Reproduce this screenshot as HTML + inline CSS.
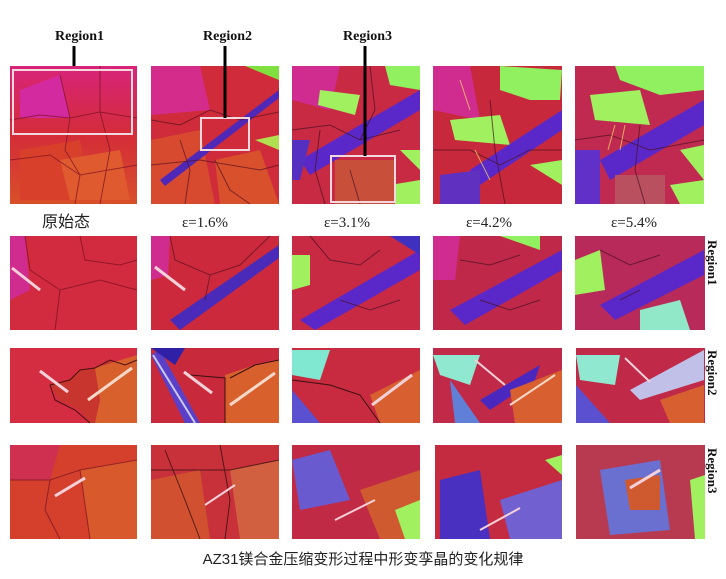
<!DOCTYPE html>
<html><head><meta charset="utf-8"><style>
body{margin:0;background:#fff;width:726px;height:579px;overflow:hidden}
svg{display:block}
</style></head><body>
<svg width="726" height="579" viewBox="0 0 726 579" xmlns="http://www.w3.org/2000/svg">
<defs>
<linearGradient id="g1" x1="0" y1="0" x2="0" y2="1"><stop offset="0" stop-color="#d8247a"/><stop offset="0.5" stop-color="#d42c38"/><stop offset="1" stop-color="#d8502a"/></linearGradient>
</defs>
<g font-family="Liberation Serif, serif" font-weight="bold" font-size="14" fill="#111">
<text x="55" y="40">Region1</text>
<text x="203" y="40">Region2</text>
<text x="343" y="40">Region3</text>
</g>
<!-- Row 1 -->
<rect x="10" y="66" width="127" height="138" fill="url(#g1)"/>
<polygon points="20,90 60,75 70,118 20,118" fill="#d42aa0"/>
<polygon points="20,150 80,140 90,200 20,200" fill="#d8402c"/>
<polygon points="60,160 120,150 130,200 70,200" fill="#e05a30"/>
<g stroke="#7a1020" stroke-width="1" fill="none" opacity="0.7">
<polyline points="10,120 40,115 70,118 100,112 137,118"/><polyline points="60,75 70,118 65,150 80,175 75,204"/><polyline points="100,66 100,112 110,150 100,204"/><polyline points="10,160 50,155 80,175 137,165"/>
</g>
<rect x="13" y="70" width="119" height="64" fill="none" stroke="#f4d8e0" stroke-width="2"/>
<line x1="74" y1="66" x2="74" y2="46" stroke="#000" stroke-width="3"/>

<rect x="151" y="66" width="128" height="138" fill="#cf2b3a"/>
<polygon points="151,66 200,66 210,110 151,115" fill="#d42c8a"/>
<polygon points="151,140 200,130 215,204 151,204" fill="#d84a30"/>
<polygon points="215,160 260,150 279,204 220,204" fill="#d8502c"/>
<polygon points="160,180 279,90 279,98 165,186" fill="#5028b8"/>
<polygon points="245,66 279,66 279,80" fill="#80e040"/>
<polygon points="255,140 279,135 279,150" fill="#b0e050"/>
<g stroke="#5a1020" stroke-width="1" fill="none" opacity="0.7">
<polyline points="151,120 180,125 210,110 240,120 279,112"/><polyline points="180,140 190,170 185,204"/><polyline points="215,160 230,190 250,204"/><polyline points="151,165 200,160 260,170 279,165"/>
</g>
<rect x="201" y="118" width="48" height="32" fill="none" stroke="#f4d8e0" stroke-width="2"/>
<line x1="225" y1="118" x2="225" y2="46" stroke="#000" stroke-width="3"/>

<rect x="292" y="66" width="128" height="138" fill="#c82a44"/>
<polygon points="292,66 340,66 330,110 292,100" fill="#d02c90"/>
<polygon points="320,90 360,95 355,115 318,105" fill="#a0f060"/>
<polygon points="385,66 420,66 420,90 390,85" fill="#90f060"/>
<polygon points="300,160 420,90 420,110 310,175" fill="#5a28c8"/>
<polygon points="292,140 310,140 300,180 292,180" fill="#5530c0"/>
<polygon points="400,150 420,150 420,170" fill="#a0f060"/>
<polygon points="390,185 420,180 420,204 395,204" fill="#a0f060"/>
<polygon points="335,160 395,160 395,204 335,204" fill="#c8503a"/>
<g stroke="#4a1020" stroke-width="1" fill="none" opacity="0.7">
<polyline points="292,130 330,125 360,140 400,130"/><polyline points="320,130 315,170 325,204"/><polyline points="350,170 360,204"/><polyline points="370,66 375,110 360,140"/>
</g>
<rect x="331" y="156" width="64" height="46" fill="none" stroke="#f4d8e0" stroke-width="2"/>
<line x1="365" y1="156" x2="365" y2="46" stroke="#000" stroke-width="3"/>

<rect x="433" y="66" width="129" height="138" fill="#c8283c"/>
<polygon points="433,66 470,66 480,120 433,110" fill="#d02c90"/>
<polygon points="500,66 562,70 560,100 530,100 500,90" fill="#90f060"/>
<polygon points="450,120 500,115 510,145 455,140" fill="#a0f060"/>
<polygon points="470,170 562,110 562,130 480,185" fill="#5a28c8"/>
<polygon points="530,165 562,160 562,185" fill="#a0f060"/>
<polygon points="440,175 480,170 480,204 440,204" fill="#6030c0"/>
<g stroke="#4a1020" stroke-width="1" fill="none" opacity="0.7">
<polyline points="433,150 470,150 500,165 530,150 562,150"/><polyline points="490,100 495,150 505,204"/><line x1="460" y1="80" x2="470" y2="110" stroke="#f0e060"/><line x1="475" y1="150" x2="490" y2="180" stroke="#f0e060"/>
</g>

<rect x="575" y="66" width="129" height="138" fill="#c02a50"/>
<polygon points="615,66 704,66 704,90 660,95 620,80" fill="#90f060"/>
<polygon points="590,95 640,90 650,125 595,120" fill="#a0f060"/>
<polygon points="600,160 704,100 704,125 610,180" fill="#5a28c8"/>
<polygon points="575,150 600,150 600,204 575,204" fill="#6030c8"/>
<polygon points="680,150 704,145 704,180" fill="#a0f060"/>
<polygon points="670,185 704,180 704,204 680,204" fill="#a0f060"/>
<polygon points="615,175 665,175 665,204 615,204" fill="#b85060"/>
<g stroke="#4a1020" stroke-width="1" fill="none" opacity="0.7">
<polyline points="575,140 610,135 650,150 704,140"/><polyline points="640,125 635,170 645,204"/><line x1="615" y1="125" x2="608" y2="150" stroke="#f0e060"/><line x1="625" y1="125" x2="620" y2="150" stroke="#f0e060"/>
</g>

<g font-family="Liberation Serif, serif" font-size="15" fill="#222">
<text x="42" y="227" font-family="Liberation Sans, Noto Sans CJK SC, sans-serif" font-size="16">原始态</text>
<text x="182" y="227">ε=1.6%</text>
<text x="324" y="227">ε=3.1%</text>
<text x="466" y="227">ε=4.2%</text>
<text x="611" y="227">ε=5.4%</text>
</g>

<!-- Row 2 -->
<rect x="10" y="236" width="127" height="94" fill="#d22a3e"/>
<polygon points="10,236 25,236 30,290 10,300" fill="#d02c90"/>
<g stroke="#7a1020" stroke-width="1" fill="none" opacity="0.7"><polyline points="25,236 30,270 60,290 100,280 137,290"/><polyline points="80,236 85,260 120,265 137,260"/><polyline points="60,290 55,330"/></g>
<line x1="12" y1="268" x2="40" y2="290" stroke="#f4d0d8" stroke-width="3"/>
<rect x="151" y="236" width="128" height="94" fill="#cc2a3c"/>
<polygon points="151,236 170,236 168,275 151,280" fill="#d02c90"/>
<polygon points="170,320 279,245 279,258 180,330" fill="#4a2ab8"/>
<g stroke="#5a1020" stroke-width="1" fill="none" opacity="0.7"><polyline points="170,236 175,260 210,275 240,265 270,236"/><polyline points="210,275 205,300"/></g>
<line x1="155" y1="267" x2="185" y2="290" stroke="#f4d0d8" stroke-width="3"/>
<rect x="292" y="236" width="128" height="94" fill="#c82a44"/>
<polygon points="292,255 310,255 310,285 292,290" fill="#a0f060"/>
<polygon points="300,320 420,250 420,270 315,330" fill="#5a28c8"/>
<polygon points="390,236 420,236 420,255" fill="#4030c0"/>
<g stroke="#4a1020" stroke-width="1" fill="none" opacity="0.7"><polyline points="310,236 330,260 360,265 380,250"/><polyline points="340,300 370,310 400,300"/></g>
<rect x="433" y="236" width="129" height="94" fill="#c0284a"/>
<polygon points="433,236 460,236 455,280 433,280" fill="#d02c90"/>
<polygon points="450,310 562,250 562,270 465,325" fill="#5a28c8"/>
<polygon points="500,236 540,236 540,250" fill="#90f060"/>
<g stroke="#4a1020" stroke-width="1" fill="none" opacity="0.7"><polyline points="460,260 490,265 520,255"/><polyline points="480,300 510,310 540,300"/></g>
<rect x="575" y="236" width="130" height="94" fill="#b82a5a"/>
<polygon points="575,260 600,250 605,290 575,295" fill="#a0f060"/>
<polygon points="600,305 704,250 704,275 615,320" fill="#5a28c8"/>
<polygon points="640,310 680,300 690,330 640,330" fill="#90e8c8"/>
<g stroke="#4a1020" stroke-width="1" fill="none" opacity="0.7"><polyline points="600,250 630,265 660,255"/><polyline points="620,300 640,290"/></g>
<text x="0" y="0" transform="translate(708,240) rotate(90)" font-family="Liberation Serif, serif" font-weight="bold" font-size="13" fill="#111">Region1</text>

<!-- Row 3 -->
<rect x="10" y="348" width="127" height="75" fill="#d42c40"/>
<polygon points="50,385 70,380 80,370 95,368 110,360 125,365 137,360 137,423 90,423 80,410 60,400" fill="#c8342e"/>
<polygon points="95,368 137,355 137,423 95,423 100,400" fill="#d8602c"/>
<polyline points="50,385 70,380 80,370 95,368 110,360 125,365 137,360" stroke="#4a1010" stroke-width="1" fill="none"/>
<polyline points="50,385 55,400 75,410 90,423" stroke="#4a1010" stroke-width="1" fill="none"/>
<line x1="40" y1="371" x2="68" y2="392" stroke="#f4d0d8" stroke-width="3"/>
<line x1="132" y1="368" x2="88" y2="400" stroke="#f8d8c8" stroke-width="3"/>
<rect x="151" y="348" width="128" height="75" fill="#c82a3c"/>
<polygon points="151,355 160,350 200,423 185,423" fill="#5a40c8"/>
<polyline points="153,355 195,423" stroke="#c8c8ff" stroke-width="2" fill="none"/>
<polygon points="151,348 185,348 175,365" fill="#3020a8"/>
<polygon points="225,375 255,365 279,360 279,423 225,423" fill="#d8602c"/>
<polyline points="230,378 255,365 279,360" stroke="#3a1010" stroke-width="1" fill="none"/>
<polyline points="190,375 225,378 225,423" stroke="#3a1010" stroke-width="1" fill="none"/>
<line x1="184" y1="372" x2="212" y2="393" stroke="#f4d0d8" stroke-width="3"/>
<line x1="275" y1="373" x2="230" y2="405" stroke="#f8d8c8" stroke-width="3"/>
<rect x="292" y="348" width="128" height="75" fill="#c82a40"/>
<polygon points="292,350 330,350 320,380 292,375" fill="#80e8d0"/>
<polygon points="292,390 320,423 292,423" fill="#5a50d0"/>
<polygon points="370,395 420,370 420,423 380,423" fill="#d86030"/>
<polyline points="292,380 330,385 360,395 380,423" stroke="#3a1010" stroke-width="1" fill="none"/>
<line x1="412" y1="375" x2="372" y2="405" stroke="#f4d0d8" stroke-width="3"/>
<rect x="433" y="348" width="129" height="75" fill="#c02a48"/>
<polygon points="433,355 480,355 470,385 440,375" fill="#90e8d0"/>
<polygon points="450,380 480,423 455,423" fill="#6080d8"/>
<polygon points="480,400 540,365 535,380 490,410" fill="#4a28c0"/>
<polygon points="510,390 562,370 562,423 515,423" fill="#d86030"/>
<line x1="475" y1="360" x2="505" y2="385" stroke="#f4d0d8" stroke-width="2"/>
<line x1="555" y1="375" x2="510" y2="405" stroke="#f8d8c8" stroke-width="2"/>
<rect x="576" y="348" width="129" height="75" fill="#c02a48"/>
<polygon points="576,355 620,355 615,385 580,380" fill="#90e8d0"/>
<polygon points="576,385 610,423 576,423" fill="#5a50d0"/>
<polygon points="630,390 704,350 704,380 640,400" fill="#c0c0e8"/>
<polygon points="660,400 704,385 704,423 670,423" fill="#d86030"/>
<line x1="625" y1="358" x2="650" y2="382" stroke="#f4d0d8" stroke-width="2"/>
<text transform="translate(708,350) rotate(90)" font-family="Liberation Serif, serif" font-weight="bold" font-size="13" fill="#111">Region2</text>

<!-- Row 4 -->
<rect x="10" y="445" width="127" height="94" fill="#d4402c"/>
<polygon points="10,445 60,445 50,480 10,480" fill="#d03050"/>
<polygon points="80,470 137,460 137,539 90,539" fill="#d85a2c"/>
<g stroke="#7a1020" stroke-width="1" fill="none" opacity="0.7"><polyline points="10,480 50,480 80,470 137,460"/><polyline points="50,480 45,510 60,539"/><polyline points="80,470 90,539"/></g>
<line x1="55" y1="496" x2="85" y2="478" stroke="#f4d0d8" stroke-width="3"/>
<rect x="151" y="445" width="128" height="94" fill="#c8303a"/>
<polygon points="151,480 200,470 210,539 151,539" fill="#d05030"/>
<polygon points="230,470 279,460 279,539 240,539" fill="#d06040"/>
<g stroke="#3a1010" stroke-width="1" fill="none" opacity="0.8"><polyline points="151,470 200,470 230,470 279,460"/><polyline points="165,450 185,500 200,539"/><polyline points="220,445 230,500 225,539"/></g>
<line x1="205" y1="505" x2="235" y2="485" stroke="#f4d0d8" stroke-width="2"/>
<rect x="292" y="445" width="128" height="94" fill="#c02a44"/>
<polygon points="292,460 330,450 350,500 300,510" fill="#6a5ad0"/>
<polygon points="360,490 420,470 420,539 380,539" fill="#d05a30"/>
<polygon points="395,510 420,500 420,539 405,539" fill="#a0f060"/>
<line x1="335" y1="520" x2="375" y2="500" stroke="#f4d0d8" stroke-width="2"/>
<rect x="435" y="445" width="127" height="94" fill="#c42a40"/>
<polygon points="440,480 480,470 490,539 440,539" fill="#4a30c0"/>
<polygon points="500,500 562,480 562,539 510,539" fill="#7060d0"/>
<polygon points="545,460 562,455 562,475" fill="#a0f060"/>
<line x1="480" y1="530" x2="520" y2="508" stroke="#f4d0d8" stroke-width="2"/>
<rect x="576" y="445" width="129" height="94" fill="#b83a50"/>
<polygon points="600,470 660,460 670,530 610,535" fill="#6a70d0"/>
<polygon points="625,480 660,475 660,510 630,510" fill="#d05a30"/>
<polygon points="690,480 705,475 705,539 695,539" fill="#a0f060"/>
<line x1="630" y1="488" x2="660" y2="470" stroke="#f4d0d8" stroke-width="3"/>
<text transform="translate(708,448) rotate(90)" font-family="Liberation Serif, serif" font-weight="bold" font-size="13" fill="#111">Region3</text>

<text x="363" y="564" text-anchor="middle" font-family="Liberation Sans, Noto Sans CJK SC, sans-serif" font-size="15" fill="#222">AZ31镁合金压缩变形过程中形变孪晶的变化规律</text>
</svg>
</body></html>
